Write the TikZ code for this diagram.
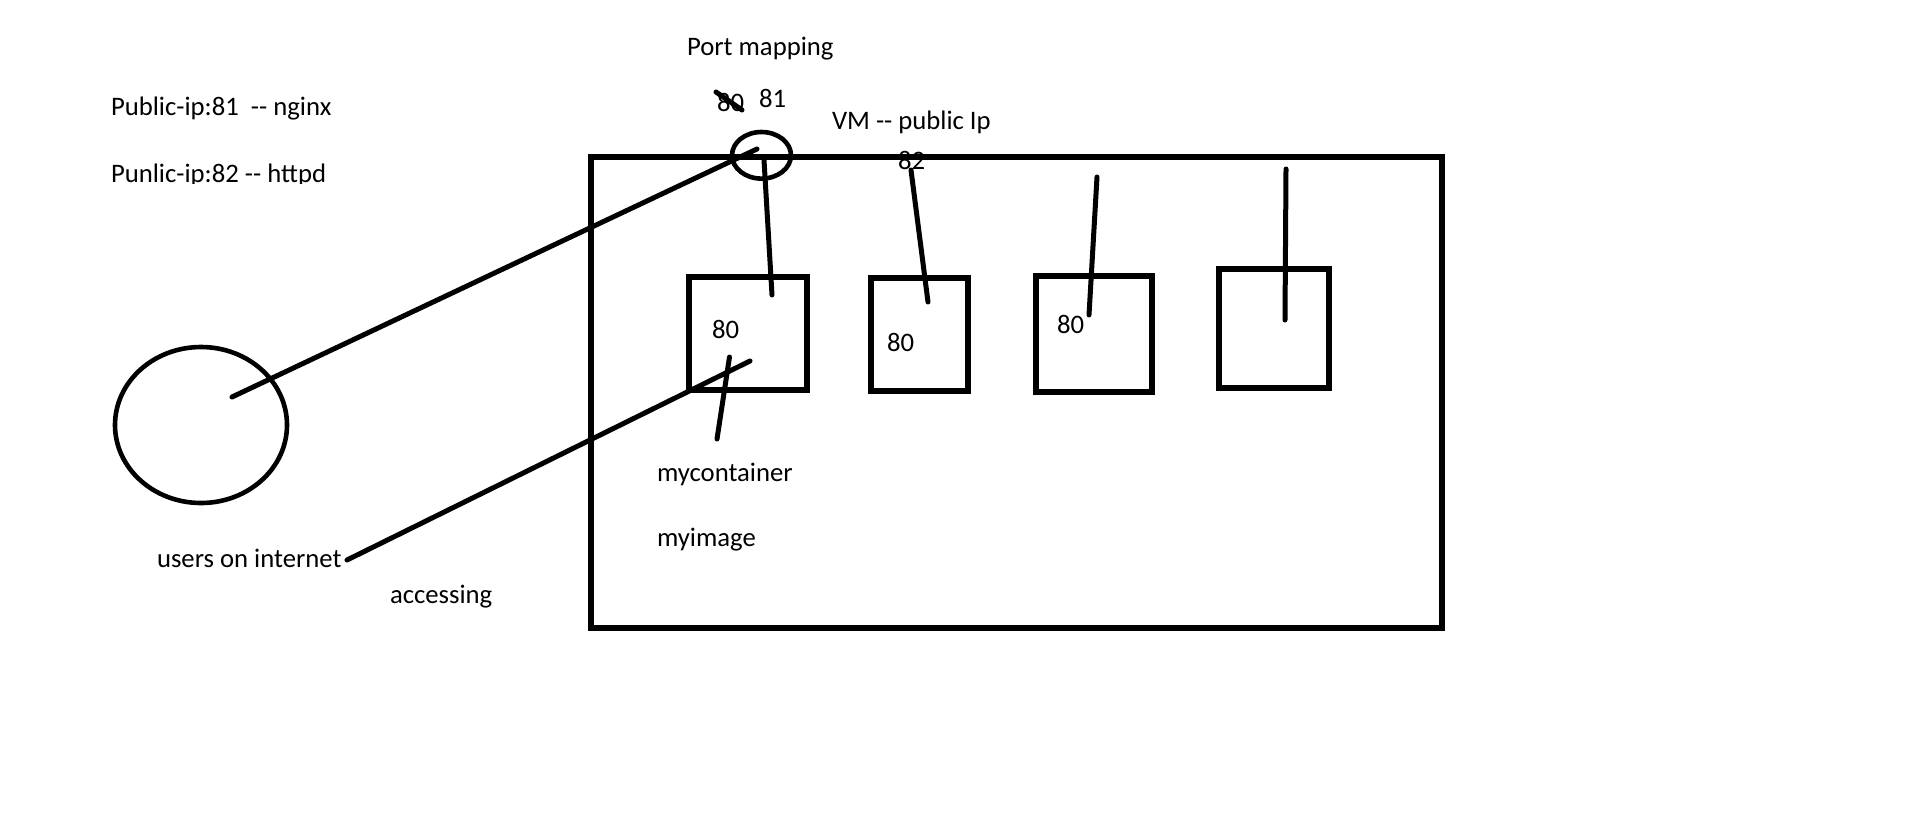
\documentclass[tikz,border=0pt]{standalone}
\usepackage{fontspec}
\usetikzlibrary{shapes.geometric}
\newfontfamily\sketchfont{Carlito}
\tikzset{
    pen/.style={line width=2.5pt, line cap=round},
    txt/.style={font=\sketchfont\fontsize{13.35pt}{16pt}\selectfont, anchor=base west, inner sep=0pt, outer sep=0pt},
    box/.style={draw, line width=2.7pt, rectangle, inner sep=0pt, outer sep=0pt},
    oval/.style={draw, line width=2.3pt, ellipse, inner sep=0pt, outer sep=0pt}
}
\begin{document}
\begin{tikzpicture}[x=0.5pt, y=-0.5pt]
\useasboundingbox (0,0) rectangle (1911,820);
\node[box, minimum width=425.5pt, minimum height=235.5pt] (vm) at (1016.5,392.5) {};
\node[box, minimum width=59pt, minimum height=56.5pt] (c1) at (748,333.5) {};
\node[box, minimum width=48.5pt, minimum height=56.5pt] (c2) at (919.5,334.5) {};
\node[box, minimum width=58pt, minimum height=58pt] (c3) at (1094,334) {};
\node[box, minimum width=55pt, minimum height=59.5pt] (c4) at (1274,328.5) {};
\node[oval, minimum width=86pt, minimum height=78pt] (users) at (201,425) {};
\node[oval, minimum width=29.5pt, minimum height=23.3pt] (pm) at (761.5,155.3) {};
\node[txt] (pmap) at (687,55) {Port mapping};
\node[txt] (ngx) at (111,115) {Public-ip:81\ \ -- nginx};
\begin{scope}
    \clip (0,0) rectangle (600,183.5);
    \node[txt] (htd) at (111,182) {Punlic-ip:82 -- httpd};
\end{scope}
\node[txt] (old) at (717,111) {80};
\node[txt] (new) at (759,107) {81};
\node[txt] (vmlbl) at (832,129) {VM -- public Ip};
\node[txt] (p82) at (898,169) {82};
\node[txt] (p1) at (712,338) {80};
\node[txt] (p2) at (887,351) {80};
\node[txt] (p3) at (1057,333) {80};
\node[txt] (ulbl) at (157,567) {users on internet};
\node[txt] (acc) at (390,603) {accessing};
\node[txt] (mc) at (657,481) {mycontainer};
\node[txt] (mi) at (657,546) {myimage};
\coordinate (uA) at (232,397);
\coordinate (uB) at (757,149);
\coordinate (pmA) at (764,160);
\coordinate (c1top) at (772,295);
\coordinate (p82a) at (911,170);
\coordinate (c2top) at (928,302);
\coordinate (c3a) at (1097,177);
\coordinate (c3top) at (1089,315);
\coordinate (c4a) at (1286,169);
\coordinate (c4top) at (1285,320);
\coordinate (accA) at (347,560);
\coordinate (accB) at (750,361);
\coordinate (mcA) at (729.5,357);
\coordinate (mcB) at (717,439);
\coordinate (strA) at (716,92);
\coordinate (strB) at (742,110);
\draw[pen] (uA) -- (uB);
\draw[pen] (pmA) -- (c1top);
\draw[pen] (p82a) -- (c2top);
\draw[pen] (c3a) -- (c3top);
\draw[pen] (c4a) -- (c4top);
\draw[pen] (accA) -- (accB);
\draw[pen] (mcA) -- (mcB);
\draw[pen] (strA) -- (strB);
\end{tikzpicture}
\end{document}
